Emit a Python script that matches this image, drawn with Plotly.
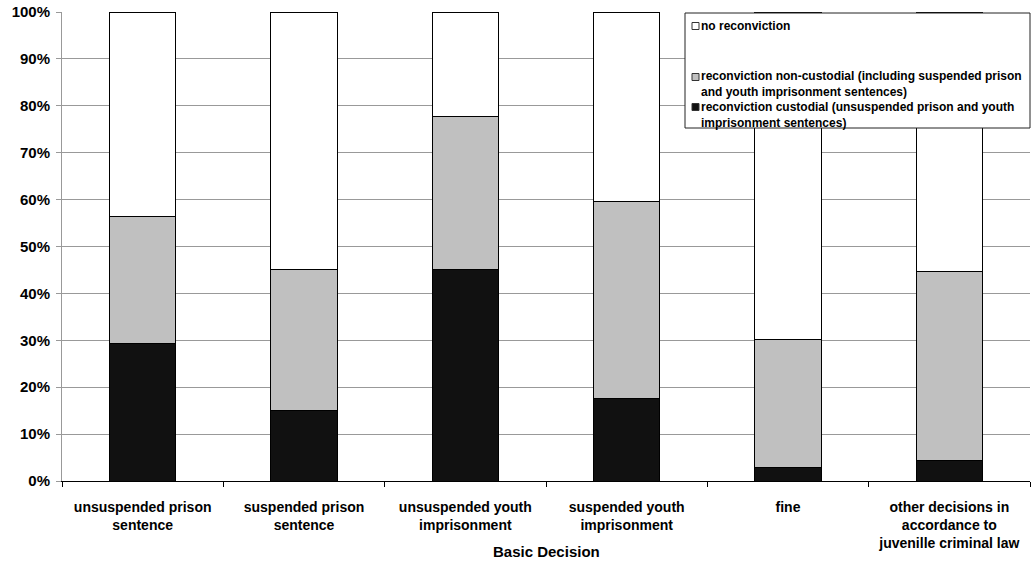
import plotly.graph_objects as go

categories = [
    "unsuspended prison<br>sentence",
    "suspended prison<br>sentence",
    "unsuspended youth<br>imprisonment",
    "suspended youth<br>imprisonment",
    "fine",
    "other decisions in<br>accordance to<br>juvenille criminal law",
]
custodial = [29.4, 15.1, 45.2, 17.5, 2.8, 4.3]
non_custodial = [27.1, 29.9, 32.6, 42.2, 27.3, 40.3]
no_reconviction = [43.5, 55.0, 22.2, 40.3, 69.9, 55.4]

series_names = [
    "reconviction custodial (unsuspended prison and youth<br>imprisonment sentences)",
    "reconviction non-custodial (including suspended prison<br>and youth imprisonment sentences)",
    "no reconviction",
]
colors = ["#111111", "#c0c0c0", "#ffffff"]

W, H = 1034, 562
L, R, T, B = 62, 4, 12, 81
PW, PH = W - L - R, H - T - B


def px(x):
    return (x - L) / PW


def py(y):
    return (H - B - y) / PH


fig = go.Figure()
for name, vals, col in zip(series_names, [custodial, non_custodial, no_reconviction], colors):
    fig.add_trace(go.Bar(
        x=categories, y=vals, name=name, showlegend=False,
        marker=dict(color=col, line=dict(color="#000000", width=1)),
        width=0.41,
    ))

# custom legend (top-right box)
fig.add_shape(type="rect", xref="paper", yref="paper",
              x0=px(685), x1=px(1030), y0=py(128), y1=py(13),
              fillcolor="white", line=dict(color="#222222", width=1), layer="above")
legend_rows = [(2, 26), (1, 84.5), (0, 114.5)]
marker_rows = [26, 77, 107]
for (idx, ty), my in zip(legend_rows, marker_rows):
    fig.add_shape(type="rect", xref="paper", yref="paper",
                  x0=px(692), x1=px(699), y0=py(my + 3.5), y1=py(my - 3.5),
                  fillcolor=colors[idx], line=dict(color="#333333", width=1), layer="above")
    fig.add_annotation(text="<b>" + series_names[idx] + "</b>", xref="paper", yref="paper",
                       x=px(700), y=py(ty), xanchor="left", yanchor="middle", align="left",
                       showarrow=False, font=dict(size=12), borderpad=0)

fig.add_annotation(
    text="<b>Basic Decision</b>", x=0.5, y=py(551), xref="paper", yref="paper",
    xanchor="center", yanchor="middle", showarrow=False, font=dict(size=15),
)

fig.update_layout(
    barmode="stack",
    width=W, height=H,
    margin=dict(l=L, r=R, t=T, b=B),
    paper_bgcolor="white", plot_bgcolor="white",
    font=dict(family="Liberation Sans, Arial, sans-serif", size=13, color="#000000"),
    showlegend=False,
    xaxis=dict(
        tickfont=dict(size=14, weight="bold"),
        showline=True, linecolor="#000000", linewidth=1,
        ticks="outside", tickson="boundaries", ticklen=5, tickcolor="#000000",
        ticklabelstandoff=13,
        automargin=False,
    ),
    yaxis=dict(
        range=[0, 100], dtick=10, ticksuffix="%",
        tickfont=dict(size=15, weight="bold"),
        showgrid=True, gridcolor="#999999", gridwidth=1,
        showline=True, linecolor="#999999", linewidth=1,
        ticks="outside", ticklen=5, tickcolor="#999999",
        ticklabelstandoff=3, ticklabeloverflow="allow",
        zeroline=False, automargin=False,
    ),
)

fig.write_html(
    "out.html",
    config={"displayModeBar": False},
    post_script="document.body.style.margin='0';document.body.style.overflow='hidden';",
)
